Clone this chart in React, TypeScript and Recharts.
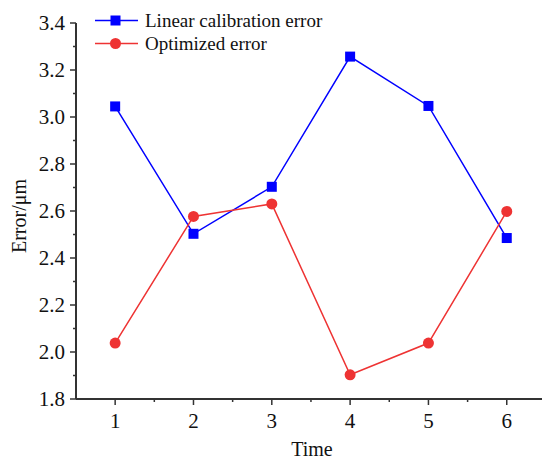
import React from 'react';
import { LineChart, Line, XAxis, YAxis, Legend } from 'recharts';

const times = [1, 2, 3, 4, 5, 6];
const linearError = [3.045, 2.503, 2.703, 3.257, 3.047, 2.485];
const optimizedError = [2.038, 2.577, 2.63, 1.903, 2.038, 2.598];
const xTicks = [1, 1.5, 2, 2.5, 3, 3.5, 4, 4.5, 5, 5.5, 6];
const yTicks = [1.8, 1.9, 2.0, 2.1, 2.2, 2.3, 2.4, 2.5, 2.6, 2.7, 2.8, 2.9, 3.0, 3.1, 3.2, 3.3, 3.4];
const seriesNames = ['Linear calibration error', 'Optimized error'];

const data = times.map((t, i) => ({ t, lin: linearError[i], opt: optimizedError[i] }));

const FONT = '"Liberation Serif", "Times New Roman", serif';
const AX = '#333333';
const BLUE = '#0000ff';
const RED = '#ee3333';

const XTick = (props: any) => {
  const { x, y, payload } = props;
  const v = payload.value;
  const major = Math.abs(v - Math.round(v)) < 1e-6;
  return (
    <g>
      <line x1={x} x2={x} y1={y} y2={y + (major ? 6 : 3)} stroke={AX} strokeWidth={1.5} />
      {major && (
        <text x={x} y={y + 29} textAnchor="middle" fontFamily={FONT} fontSize={21} fill="#111">
          {v}
        </text>
      )}
    </g>
  );
};

const YTick = (props: any) => {
  const { x, y, payload } = props;
  const v = payload.value;
  const idx = Math.round((v - 1.8) * 10);
  const major = idx % 2 === 0;
  return (
    <g>
      <line x1={x} x2={x - (major ? 6 : 3)} y1={y} y2={y} stroke={AX} strokeWidth={1.5} />
      {major && (
        <text x={x - 11} y={y + 7} textAnchor="end" fontFamily={FONT} fontSize={21} fill="#111">
          {v.toFixed(1)}
        </text>
      )}
    </g>
  );
};

const Square = (props: any) => {
  const { cx, cy } = props;
  if (cx == null || cy == null) return null;
  return <rect x={cx - 5} y={cy - 5} width={10} height={10} fill={BLUE} />;
};

const Dot = (props: any) => {
  const { cx, cy } = props;
  if (cx == null || cy == null) return null;
  return <circle cx={cx} cy={cy} r={5.5} fill={RED} />;
};

const LegendContent = () => (
  <div style={{ fontFamily: FONT, fontSize: 19, color: '#111', lineHeight: '23px' }}>
    {seriesNames.map((n, i) => (
      <div key={n} style={{ display: 'flex', alignItems: 'center', height: 23 }}>
        <svg width={50} height={23} style={{ display: 'block' }}>
          <line x1={0} x2={43} y1={11.5} y2={11.5} stroke={i === 0 ? BLUE : RED} strokeWidth={1.5} />
          {i === 0 ? (
            <rect x={15.5} y={6.5} width={10} height={10} fill={BLUE} />
          ) : (
            <circle cx={20.5} cy={11.5} r={5.5} fill={RED} />
          )}
        </svg>
        <span>{n}</span>
      </div>
    ))}
  </div>
);

export default function App() {
  return (
    <div style={{ position: 'absolute', left: 0, top: 0, background: '#fff' }}>
      <LineChart width={542} height={461} data={data} margin={{ top: 23, right: 0, bottom: 22, left: 0 }}>
        <XAxis
          dataKey="t"
          type="number"
          domain={[0.5, 6.45]}
          ticks={xTicks}
          interval={0}
          tick={<XTick />}
          tickLine={false}
          tickSize={0}
          tickMargin={0}
          height={40}
          axisLine={{ stroke: AX, strokeWidth: 2 }}
          allowDataOverflow
          label={() => (
            <text x={312} y={456} textAnchor="middle" fontFamily={FONT} fontSize={20} fill="#111">
              Time
            </text>
          )}
        />
        <YAxis
          type="number"
          domain={[1.8, 3.4]}
          ticks={yTicks}
          interval={0}
          tick={<YTick />}
          tickLine={false}
          tickSize={0}
          tickMargin={0}
          width={76}
          axisLine={{ stroke: AX, strokeWidth: 2 }}
          allowDataOverflow
          label={() => (
            <text
              x={26}
              y={216}
              textAnchor="middle"
              fontFamily={FONT}
              fontSize={20}
              fill="#111"
              transform="rotate(-90 26 216)"
            >
              Error/μm
            </text>
          )}
        />
        <Legend
          layout="vertical"
          align="center"
          verticalAlign="middle"
          content={<LegendContent />}
          wrapperStyle={{ top: 8.5, left: 95, width: 'auto', bottom: 'auto', right: 'auto' }}
        />
        <Line
          type="linear"
          dataKey="lin"
          name={seriesNames[0]}
          stroke={BLUE}
          strokeWidth={1.5}
          dot={<Square />}
          activeDot={false}
          isAnimationActive={false}
        />
        <Line
          type="linear"
          dataKey="opt"
          name={seriesNames[1]}
          stroke={RED}
          strokeWidth={1.5}
          dot={<Dot />}
          activeDot={false}
          isAnimationActive={false}
        />
      </LineChart>
    </div>
  );
}
